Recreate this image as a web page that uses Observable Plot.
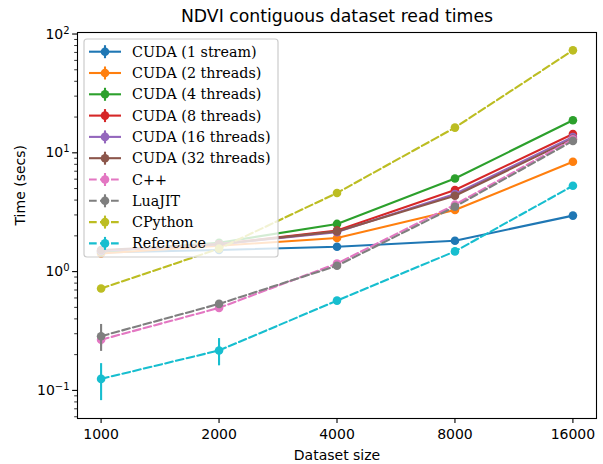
<!DOCTYPE html>
<html>
<head>
<meta charset="utf-8">
<script src="https://cdn.jsdelivr.net/npm/d3@7"></script>
<script src="https://cdn.jsdelivr.net/npm/@observablehq/plot@0.6"></script>
<style>
  html, body { margin: 0; padding: 0; background: #fff; }
  #chart { position: relative; width: 603px; height: 464px; }
  #legend { position: absolute; left: 0; top: 0; pointer-events: none; }
</style>
</head>
<body>
<div id="chart"></div>
<script>
// ---- data ----
const sizes = [1000, 2000, 4000, 8000, 16000];
const names = ["CUDA (1 stream)", "CUDA (2 threads)", "CUDA (4 threads)", "CUDA (8 threads)",
  "CUDA (16 threads)", "CUDA (32 threads)", "C++", "LuaJIT", "CPython", "Reference"];
const colors = ["#1f77b4", "#ff7f0e", "#2ca02c", "#d62728", "#9467bd", "#8c564b",
  "#e377c2", "#7f7f7f", "#bcbd22", "#17becf"];
const dashed = [false, false, false, false, false, false, true, true, true, true];

const cuda1     = [1.45, 1.52, 1.62, 1.82, 2.96];
const cuda2     = [1.42, 1.65, 1.92, 3.30, 8.40];
const cuda4     = [1.48, 1.75, 2.52, 6.08, 18.8];
const cuda8     = [1.50, 1.70, 2.22, 4.86, 14.4];
const cuda16    = [1.50, 1.70, 2.15, 4.50, 13.6];
const cuda32    = [1.52, 1.70, 2.18, 4.35, 13.1];
const cpp       = [0.267, 0.495, 1.17, 3.66, 13.0];
const luajit    = [0.286, 0.535, 1.12, 3.52, 12.6];
const cpython   = [0.72, 1.56, 4.59, 16.3, 72.9];
const reference = [0.125, 0.217, 0.57, 1.48, 5.28];

const err_cuda1     = [0.02, 0.02, 0.02, 0.03, 0.05];
const err_cuda2     = [0.02, 0.02, 0.03, 0.05, 0.1];
const err_cuda4     = [0.02, 0.03, 0.04, 0.08, 0.2];
const err_cuda8     = [0.02, 0.03, 0.03, 0.06, 0.15];
const err_cuda16    = [0.02, 0.03, 0.03, 0.06, 0.15];
const err_cuda32    = [0.02, 0.03, 0.03, 0.06, 0.15];
const err_cpp       = [0.03, 0.02, 0.03, 0.05, 0.15];
const err_luajit    = [0.073, 0.03, 0.03, 0.05, 0.15];
const err_cpython   = [0.02, 0.03, 0.06, 0.2, 0.8];
const err_reference = [0.043, 0.056, 0.02, 0.05, 0.08];

const values = [cuda1, cuda2, cuda4, cuda8, cuda16, cuda32, cpp, luajit, cpython, reference];
const errors = [err_cuda1, err_cuda2, err_cuda4, err_cuda8, err_cuda16, err_cuda32,
  err_cpp, err_luajit, err_cpython, err_reference];

const yMajorTicks = [0.1, 1, 10, 100];
const yMajorExponents = ["\u22121", "0", "1", "2"];
const yMinorTicks = [0.06, 0.07, 0.08, 0.09, 0.2, 0.3, 0.4, 0.5, 0.6, 0.7, 0.8, 0.9,
  2, 3, 4, 5, 6, 7, 8, 9, 20, 30, 40, 50, 60, 70, 80, 90];

const title = "NDVI contiguous dataset read times";
const xLabel = "Dataset size";
const yLabel = "Time (secs)";

// ---- build table ----
const seriesData = names.map((name, i) =>
  sizes.map((s, j) => ({name, size: s, t: values[i][j], e: errors[i][j]})));

const LW = 2.1, R = 4.3, DASH = "7.7,3.3";

const marks = [];
seriesData.forEach((data, i) => {
  marks.push(Plot.line(data, {x: "size", y: "t", stroke: colors[i], strokeWidth: LW,
    strokeDasharray: dashed[i] ? DASH : null}));
  marks.push(Plot.ruleX(data, {x: "size", y1: d => d.t - d.e, y2: d => d.t + d.e,
    stroke: colors[i], strokeWidth: LW}));
  marks.push(Plot.dot(data, {x: "size", y: "t", r: R, fill: colors[i], stroke: null}));
});

const plot = Plot.plot({
  width: 603,
  height: 464,
  marginTop: 32,
  marginRight: 7,
  marginBottom: 46,
  marginLeft: 77,
  style: {fontFamily: "DejaVu Sans", fontSize: "14px", background: "#fff", color: "black"},
  x: {type: "log", base: 2, domain: [1000 / Math.pow(2, 0.2), 16000 * Math.pow(2, 0.2)]},
  y: {type: "log", domain: [0.058, 103]},
  marks: [
    ...marks,
    Plot.axisX({ticks: sizes, tickFormat: d => String(d), tickSize: 4.9, tickPadding: 6,
      strokeWidth: 1.1, fontSize: 14, label: null}),
    Plot.axisY({ticks: yMajorTicks, tickFormat: d => "10^" + yMajorExponents[yMajorTicks.indexOf(d)],
      tickSize: 4.9, tickPadding: 3, strokeWidth: 1.1, fontSize: 14, label: null}),
    Plot.axisY({ticks: yMinorTicks, tickFormat: () => "", tickSize: 2.8, strokeWidth: 0.8, label: null}),
    Plot.frame({stroke: "black", strokeWidth: 1.1}),
    Plot.text([title], {text: d => d, frameAnchor: "top", dy: -16, fontSize: 17.3, lineAnchor: "middle"}),
    Plot.text([xLabel], {text: d => d, frameAnchor: "bottom", dy: 37, fontSize: 14, lineAnchor: "middle"}),
    Plot.text([yLabel], {text: d => d, frameAnchor: "left", dx: -57, rotate: -90, fontSize: 14, lineAnchor: "middle"})
  ]
});

// superscript exponents for y tick labels
d3.select(plot).selectAll("text").each(function() {
  const t = this.textContent;
  if (/^10\^/.test(t)) {
    const exp = t.slice(3);
    const sel = d3.select(this);
    sel.text("10");
    sel.append("tspan").attr("font-size", 10).attr("dy", "-0.5em").text(exp);
  }
});

const chart = document.getElementById("chart");
chart.appendChild(plot);

// ---- legend overlay ----
const lg = d3.select(chart).append("svg").attr("id", "legend")
  .attr("width", 603).attr("height", 464);
const box = {x: 84, y: 39, w: 194, h: 218};
lg.append("rect").attr("x", box.x).attr("y", box.y).attr("width", box.w).attr("height", box.h)
  .attr("rx", 3).attr("fill", "white").attr("fill-opacity", 0.8)
  .attr("stroke", "#cccccc").attr("stroke-width", 1.2);
names.forEach((name, i) => {
  const cy = 51.7 + 21.3 * i;
  const g = lg.append("g");
  g.append("line").attr("x1", 89).attr("x2", 121).attr("y1", cy).attr("y2", cy)
    .attr("stroke", colors[i]).attr("stroke-width", LW)
    .attr("stroke-dasharray", dashed[i] ? DASH : null);
  g.append("line").attr("x1", 105).attr("x2", 105).attr("y1", cy - 6.5).attr("y2", cy + 6.5)
    .attr("stroke", colors[i]).attr("stroke-width", LW);
  g.append("circle").attr("cx", 105).attr("cy", cy).attr("r", R).attr("fill", colors[i]);
  g.append("text").attr("x", 132).attr("y", cy).attr("dy", "0.35em")
    .attr("font-family", "DejaVu Serif").attr("font-size", 14.3).attr("fill", "black")
    .text(name);
});
</script>
</body>
</html>
